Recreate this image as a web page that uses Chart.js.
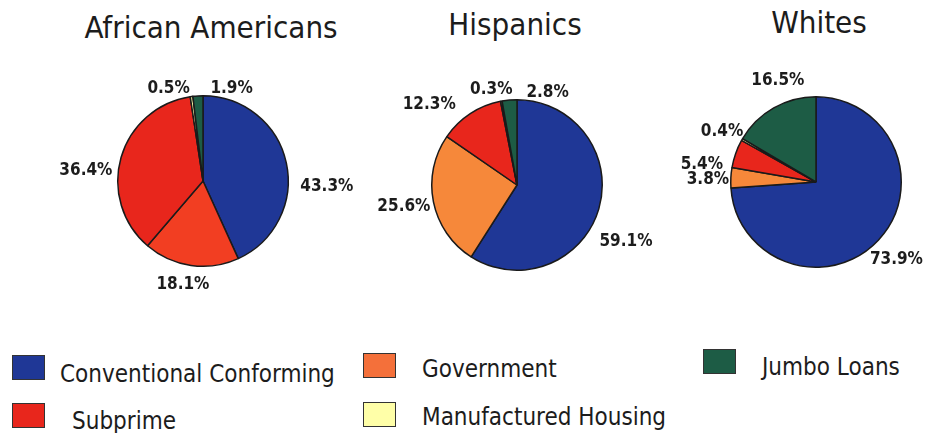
<!DOCTYPE html>
<html>
<head>
<meta charset="utf-8">
<script src="https://cdn.jsdelivr.net/npm/chart.js@4.4.0/dist/chart.umd.min.js"></script>
<style>
  html, body { margin: 0; padding: 0; background: #fff; overflow: hidden; }
  body { width: 925px; height: 433px; position: relative; font-family: "DejaVu Sans Condensed", "DejaVu Sans", sans-serif; color: #1c1c1c; }
  canvas { position: absolute; }
  .title { position: absolute; font-size: 31px; line-height: 31px; white-space: nowrap; transform: translateX(-50%); }
  .swatch { position: absolute; width: 31px; height: 23px; border: 1px solid #333; }
  .item { position: absolute; font-size: 24px; line-height: 24px; white-space: nowrap; }
</style>
</head>
<body>

<div class="title" style="left:211px; top:12px;">African Americans</div>
<div class="title" style="left:515px; top:9px;">Hispanics</div>
<div class="title" style="left:819px; top:7px;">Whites</div>

<canvas id="pieAfrican" width="300" height="240" style="left:53px; top:61px;"></canvas>
<canvas id="pieHispanic" width="300" height="240" style="left:367px; top:65px;"></canvas>
<canvas id="pieWhite" width="300" height="240" style="left:666px; top:62px;"></canvas>

<div class="swatch" style="left:12px; top:355px; background:#1f3796;"></div>
<div class="item" style="left:60px; top:362px;">Conventional Conforming</div>
<div class="swatch" style="left:12px; top:403px; background:#e8261c;"></div>
<div class="item" style="left:72px; top:409px;">Subprime</div>
<div class="swatch" style="left:363px; top:353px; background:#f4703a;"></div>
<div class="item" style="left:422px; top:357px;">Government</div>
<div class="swatch" style="left:363px; top:402px; background:#ffffa8;"></div>
<div class="item" style="left:422px; top:405px;">Manufactured Housing</div>
<div class="swatch" style="left:703px; top:349px; background:#1d5c45;"></div>
<div class="item" style="left:762px; top:355px;">Jumbo Loans</div>

<script>
// slice order, clockwise from 12 o'clock
const categories = ['Conventional Conforming', 'Government', 'Subprime', 'Manufactured Housing', 'Jumbo Loans'];
const groups = ['African Americans', 'Hispanics', 'Whites'];

// percent of loans by type
const africanAmericans = [43.3, 18.1, 36.4, 0.5, 1.9];
const hispanics = [59.1, 25.6, 12.3, 0.3, 2.8];
const whites = [73.9, 3.8, 5.4, 0.4, 16.5];

// colours (the government slice of the first pie prints more red in the scan)
const coloursAfrican = ['#1f3796', '#f23e22', '#e8261c', '#ffffa8', '#1d5c45'];
const coloursOther = ['#1f3796', '#f6883a', '#e8261c', '#ffffa8', '#1d5c45'];

// hand nudges for the percent labels, relative to the slice mid-angle point
const labelNudges = {
    pieAfrican: [[19, 26], [-5, -4], [-14, 17], [-20, 12], [35, 13]],
    pieHispanic: [[6, 25], [-8, -1], [-29, 7], [-6, 8], [40, 13]],
    pieWhite: [[2, 3], [-1, 1], [-13, 16], [-1, 1], [15, -10]]
};

const pctLabels = {
    id: 'pctLabels',
    afterDatasetsDraw(chart) {
        const ctx = chart.ctx;
        const meta = chart.getDatasetMeta(0);
        const values = chart.data.datasets[0].data;
        const nudges = labelNudges[chart.canvas.id];
        const fs = 17;
        ctx.save();
        ctx.font = 'bold ' + fs + 'px "DejaVu Sans Condensed", "DejaVu Sans", sans-serif';
        ctx.fillStyle = '#1c1c1c';
        ctx.textAlign = 'center';
        ctx.textBaseline = 'alphabetic';
        meta.data.forEach((arc, i) => {
            const p = arc.getProps(['x', 'y', 'startAngle', 'endAngle', 'outerRadius'], true);
            const mid = (p.startAngle + p.endAngle) / 2;
            const r = p.outerRadius + 22;
            const cx = p.x + Math.cos(mid) * r + nudges[i][0];
            const cy = p.y + Math.sin(mid) * r + nudges[i][1];
            ctx.fillText(values[i].toFixed(1) + '%', cx, cy + fs * 0.365);
        });
        ctx.restore();
    }
};

function drawPie(canvasId, values, colours) {
    const ctx = document.getElementById(canvasId).getContext('2d');
    new Chart(ctx, {
        type: 'pie',
        data: {
            labels: categories,
            datasets: [{
                data: values,
                backgroundColor: colours,
                borderColor: '#1a1a1a',
                borderWidth: 1.5,
                hoverOffset: 0
            }]
        },
        options: {
            responsive: false,
            animation: false,
            devicePixelRatio: 1,
            layout: { padding: { left: 64, right: 64, top: 34, bottom: 34 } },
            plugins: {
                legend: { display: false },
                tooltip: { enabled: false }
            }
        },
        plugins: [pctLabels]
    });
}

drawPie('pieAfrican', africanAmericans, coloursAfrican);
drawPie('pieHispanic', hispanics, coloursOther);
drawPie('pieWhite', whites, coloursOther);
</script>
</body>
</html>
